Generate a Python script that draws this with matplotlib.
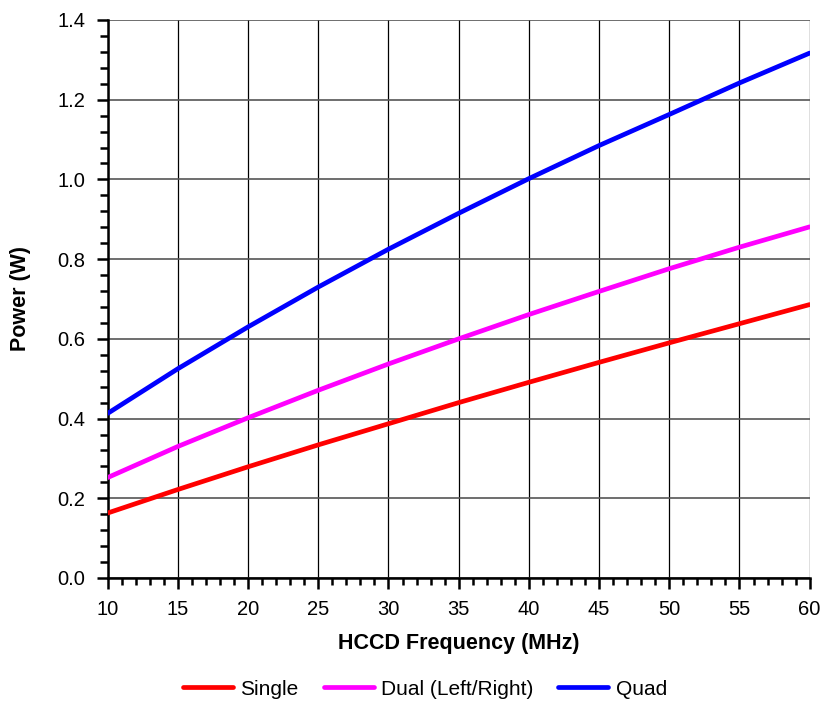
import matplotlib
matplotlib.use("Agg")
import matplotlib.pyplot as plt
from matplotlib.ticker import MultipleLocator, FormatStrFormatter

plt.rcParams['font.family'] = ['Liberation Sans', 'DejaVu Sans']

freq = [10, 15, 20, 25, 30, 35, 40, 45, 50, 55, 60]
single = [0.163, 0.222, 0.279, 0.334, 0.387, 0.440, 0.491, 0.541, 0.590, 0.638, 0.686]
dual = [0.252, 0.330, 0.402, 0.471, 0.537, 0.600, 0.661, 0.719, 0.776, 0.830, 0.881]
quad = [0.413, 0.525, 0.630, 0.730, 0.825, 0.915, 1.002, 1.085, 1.163, 1.242, 1.317]

series = [("Single", single, "#ff0000"),
          ("Dual (Left/Right)", dual, "#ff00ff"),
          ("Quad", quad, "#0000ff")]

fig = plt.figure(figsize=(8.22, 7.04), dpi=100)
ax = fig.add_axes([0.131, 0.179, 0.854, 0.7926])

for name, values, color in series:
    ax.plot(freq, values, color=color, linewidth=3.4, label=name,
            solid_capstyle="round", zorder=3)

ax.set_xlim(10, 60)
ax.set_ylim(0, 1.4)
ax.xaxis.set_major_locator(MultipleLocator(5))
ax.xaxis.set_minor_locator(MultipleLocator(1))
ax.yaxis.set_major_locator(MultipleLocator(0.2))
ax.yaxis.set_minor_locator(MultipleLocator(0.04))
ax.yaxis.set_major_formatter(FormatStrFormatter("%.1f"))

ax.grid(True, which="major", axis="x", color="black", linewidth=0.9)
ax.grid(True, which="major", axis="y", color="#555555", linewidth=1.2)

for side in ("top", "right"):
    ax.spines[side].set_visible(False)
for side in ("left", "bottom"):
    ax.spines[side].set_linewidth(1.8)

ax.tick_params(axis="both", which="major", direction="out", length=8, width=1.8,
               labelsize=14.5)
ax.tick_params(axis="x", which="major", pad=8)
ax.tick_params(axis="y", which="major", pad=8)
ax.tick_params(axis="x", which="minor", direction="out", length=5, width=1.8)
ax.tick_params(axis="y", which="minor", direction="out", length=6, width=1.8)

ax.set_xlabel("HCCD Frequency (MHz)", fontsize=15.5, fontweight="bold", labelpad=10)
ax.set_ylabel("Power (W)", fontsize=15.5, fontweight="bold", labelpad=19)

fig.legend(loc="center", bbox_to_anchor=(0.517, 0.021), ncol=3, frameon=False,
           fontsize=15, handlelength=2.4, columnspacing=1.2, handletextpad=0.35)

fig.savefig("out.png", dpi=100)
